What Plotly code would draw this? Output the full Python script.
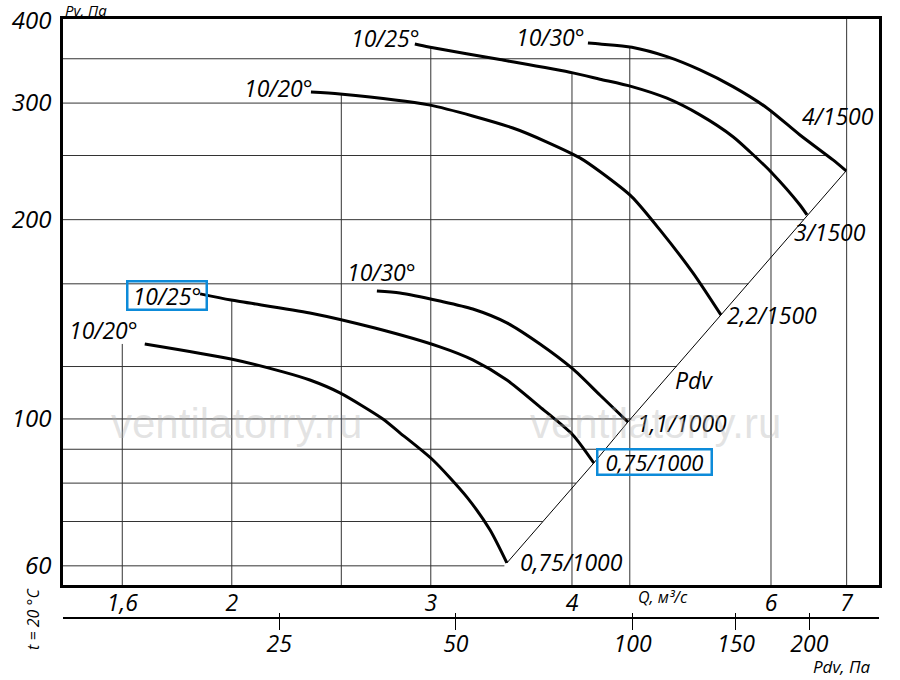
import numpy as np
import plotly.graph_objects as go

# ---------------- data ----------------
# Upper curves, 1500 rpm:  Q, м³/с  and  Pv, Па
q_a20 = [2.350, 2.493, 2.988, 3.546, 3.801, 4.065, 4.234, 4.519, 4.785, 5.118, 5.418]
p_a20 = [311.9, 309.7, 298.1, 275.1, 262.0, 247.9, 236.4, 216.5, 193.0, 166.2, 143.6]
q_a25 = [2.904, 2.988, 3.454, 4.007, 4.234, 4.519, 4.854, 5.192, 5.553, 5.748, 6.012, 6.365, 6.457]
p_a25 = [368.5, 364.7, 349.0, 333.2, 326.0, 317.7, 305.1, 287.9, 266.9, 253.3, 235.3, 210.5, 203.3]
q_a30 = [4.132, 4.234, 4.519, 4.854, 5.192, 5.553, 5.951, 6.365, 6.808, 6.993]
p_a30 = [369.8, 368.5, 364.3, 352.6, 336.7, 317.7, 295.0, 268.5, 246.2, 237.0]
# Lower curves, 1000 rpm
q_b20 = [1.675, 1.997, 2.220, 2.345, 2.493, 2.721, 2.817, 3.013, 3.229, 3.384, 3.503]
p_b20 = [129.8, 123.2, 117.8, 114.5, 109.5, 100.0, 95.3, 86.7, 76.2, 68.0, 60.6]
q_b25 = [1.875, 1.997, 2.345, 2.677, 3.056, 3.268, 3.503, 3.747, 4.007, 4.182]
p_b25 = [154.5, 151.2, 144.6, 137.2, 128.5, 122.8, 114.5, 104.3, 94.6, 85.8]
q_b30 = [2.688, 2.817, 3.056, 3.268, 3.503, 3.747, 4.007, 4.234, 4.483]
p_b30 = [156.1, 155.0, 150.7, 146.6, 139.7, 129.8, 119.0, 108.7, 98.96]

start_labels = ["10/20°", "10/25°", "10/30°", "10/20°", "10/25°", "10/30°"]
end_labels = ["2,2/1500", "3/1500", "4/1500", "0,75/1000", "0,75/1000", "1,1/1000"]

q_grid = [1.6, 2, 2.5, 3, 4, 4.5, 6, 7]
p_grid = [60, 70, 80, 90, 100, 120, 160, 200, 250, 300, 350]

q_tickvals = [1.6, 2, 3, 4, 6, 7]
q_ticktext = ["1,6", "2", "3", "4", "6", "7"]
p_tickvals = [60, 100, 200, 300, 400]
p_ticktext = ["60", "100", "200", "300", "400"]
pdv_tickvals = [25, 50, 100, 150, 200]
pdv_ticktext = ["25", "50", "100", "150", "200"]

# ---------------- layout constants ----------------
XR = [np.log10(1.418), np.log10(7.477)]
YR = [np.log10(56.13), np.log10(401.9)]
PR = [1.0298, 2.4197]
FONT = "Open Sans"
BLUE = "#0d8bd9"

curves = [(q_a20, p_a20), (q_a25, p_a25), (q_a30, p_a30),
          (q_b20, p_b20), (q_b25, p_b25), (q_b30, p_b30)]


def p_at(qs, ps, q):
    if q < qs[0] or q > qs[-1]:
        return None
    return 10 ** np.interp(np.log10(q), np.log10(qs), np.log10(ps))


def q_at(qs, ps, p):
    if p < min(ps) or p > max(ps):
        return None
    return 10 ** np.interp(np.log10(p), np.log10(ps)[::-1], np.log10(qs)[::-1])


# Pdv line through the curve end points
ends = sorted([(c[0][-1], c[1][-1]) for c in curves])
eq = [e[0] for e in ends]
ep = [e[1] for e in ends]
n_pow = np.log10(ep[-1] / ep[0]) / np.log10(eq[-1] / eq[0])


def q_diag(p):
    return eq[0] * (p / ep[0]) ** (1.0 / n_pow)


# gridlines clipped by the curve envelope
gx, gy = [], []
x_left, x_right = 10 ** XR[0], 10 ** XR[1]
y_bot, y_top = 10 ** YR[0], 10 ** YR[1]
for p in p_grid:
    cands = [q_at(qs, ps, p) for qs, ps in curves]
    cands = [c for c in cands if c is not None]
    if p <= ep[-1]:
        cands.append(q_diag(p))
    right = max(cands) if cands else x_right
    gx += [x_left, right, None]
    gy += [p, p, None]
first = min(curves, key=lambda c: c[0][0])
for q in q_grid:
    cands = [p_at(qs, ps, q) for qs, ps in curves]
    cands = [c for c in cands if c is not None]
    if cands:
        top = max(cands)
    elif q < first[0][0]:
        top = first[1][0]
    else:
        top = y_top
    gx += [q, q, None]
    gy += [y_bot, top, None]

fig = go.Figure()
fig.add_trace(go.Scatter(x=gx, y=gy, mode="lines", line=dict(color="#333", width=1),
                         hoverinfo="skip"))
fig.add_trace(go.Scatter(x=eq, y=ep, mode="lines", line=dict(color="black", width=1),
                         hoverinfo="skip"))
for qs, ps in curves:
    fig.add_trace(go.Scatter(x=qs, y=ps, mode="lines",
                             line=dict(color="black", width=3, shape="spline", smoothing=0.7),
                             hoverinfo="skip"))
# carriers for the Pdv axes
for ax in ["x2", "x3"]:
    fig.add_trace(go.Scatter(x=[pdv_tickvals[2]], y=[p_grid[4]], xaxis=ax, yaxis="y",
                             mode="markers", marker=dict(opacity=0), hoverinfo="skip"))

ann = []
lab_font = dict(family=FONT, size=23, color="black", style="italic")
# (xanchor, xshift, yshift, boxed)
start_pos = [("right", 4, 4, False), ("right", 7, 6, False), ("right", -1, 6, False),
             ("right", -5, 14, False), ("right", 8, -2, True), ("left", -32, 19, False)]
end_pos = [("left", 4, 0, False), ("left", -15, -17, False), ("left", -46, 55, False),
           ("left", 11, 1, False), ("left", 2, 1, True), ("left", 7, -1, False)]
for (qs, ps), txt, (xa, xs, ys, box) in zip(curves, start_labels, start_pos):
    a = dict(x=np.log10(qs[0]), y=np.log10(ps[0]), xref="x", yref="y", text=txt,
             showarrow=False, xanchor=xa, yanchor="middle", xshift=xs, yshift=ys,
             font=lab_font)
    if box:
        a.update(bordercolor=BLUE, borderwidth=2.5, borderpad=1.5, width=74, height=23)
    ann.append(a)
for (qs, ps), txt, (xa, xs, ys, box) in zip(curves, end_labels, end_pos):
    a = dict(x=np.log10(qs[-1]), y=np.log10(ps[-1]), xref="x", yref="y", text=txt,
             showarrow=False, xanchor=xa, yanchor="middle", xshift=xs, yshift=ys,
             font=lab_font)
    if box:
        a.update(bordercolor=BLUE, borderwidth=2.5, borderpad=0, width=112, height=23,
                 font=dict(family=FONT, size=22, color="black", style="italic"))
    ann.append(a)

ann.append(dict(x=np.log10(4.913), y=np.log10(114.5), xref="x", yref="y", text="Pdv",
                showarrow=False, xanchor="left", yanchor="middle", font=lab_font))
small = dict(family=FONT, size=16, color="black", style="italic")
ann.append(dict(x=np.log10(4.815), y=0.0692, xref="x", yref="paper", text="Q, м³/с",
                showarrow=False, xanchor="center", yanchor="middle", font=small))
ann.append(dict(x=0.0, y=1.0145, xref="paper", yref="paper", text="Pv, Па",
                showarrow=False, xanchor="left", yanchor="middle",
                font=dict(family=FONT, size=15, color="black", style="italic")))
ann.append(dict(x=0.992, y=-0.0419, xref="paper", yref="paper", text="Pdv, Па",
                showarrow=False, xanchor="right", yanchor="middle",
                font=dict(family=FONT, size=17, color="black", style="italic")))
ann.append(dict(x=-0.0368, y=0.0338, xref="paper", yref="paper", text="t = 20 °C",
                showarrow=False, xanchor="center", yanchor="middle", textangle=-90,
                font=small))
wm = dict(family="Liberation Sans", size=42, color="rgba(175,175,175,0.35)")
for xp in [0.2132, 0.7255]:
    ann.append(dict(x=xp, y=0.3494, xref="paper", yref="paper", text="ventilatorry.ru",
                    showarrow=False, xanchor="center", yanchor="middle", font=wm))

tick_font = dict(family=FONT, size=23, color="black", style="italic")
fig.update_layout(
    width=900, height=680,
    margin=dict(l=63, r=21, t=19, b=40, autoexpand=False),
    paper_bgcolor="white", plot_bgcolor="white",
    showlegend=False,
    font=dict(family=FONT, color="black"),
    annotations=ann,
    xaxis=dict(type="log", range=XR, domain=[0, 1], anchor="y", showgrid=False,
               zeroline=False, showline=True, linewidth=2.5, linecolor="black",
               mirror=True, tickvals=q_tickvals, ticktext=q_ticktext, ticks="",
               tickfont=tick_font, ticklabelstandoff=-4, automargin=False),
    yaxis=dict(type="log", range=YR, domain=[0.08857, 1], anchor="x", showgrid=False,
               zeroline=False, showline=True, linewidth=2.5, linecolor="black",
               mirror=True, tickvals=p_tickvals, ticktext=p_ticktext, ticks="",
               tickfont=dict(family=FONT, size=24, color="black", style="italic"),
               ticklabelstandoff=4, automargin=False),
    xaxis2=dict(type="log", range=PR, overlaying="x", anchor="free", position=0.0354,
                side="bottom", showgrid=False, zeroline=False, showline=True,
                linewidth=2, linecolor="black", ticks="outside", ticklen=11,
                tickwidth=1.2, tickcolor="black", tickvals=pdv_tickvals,
                ticktext=pdv_ticktext, tickfont=tick_font, ticklabelstandoff=-6,
                automargin=False),
    xaxis3=dict(type="log", range=PR, overlaying="x", anchor="free", position=0.0354,
                side="bottom", showgrid=False, zeroline=False, showline=False,
                ticks="inside", ticklen=5, tickwidth=1.2, tickcolor="black",
                tickvals=pdv_tickvals, showticklabels=False, automargin=False),
)

fig.write_html("out.html", config={"displayModeBar": False},
               post_script="document.body.style.margin='0';document.body.style.overflow='hidden';")
